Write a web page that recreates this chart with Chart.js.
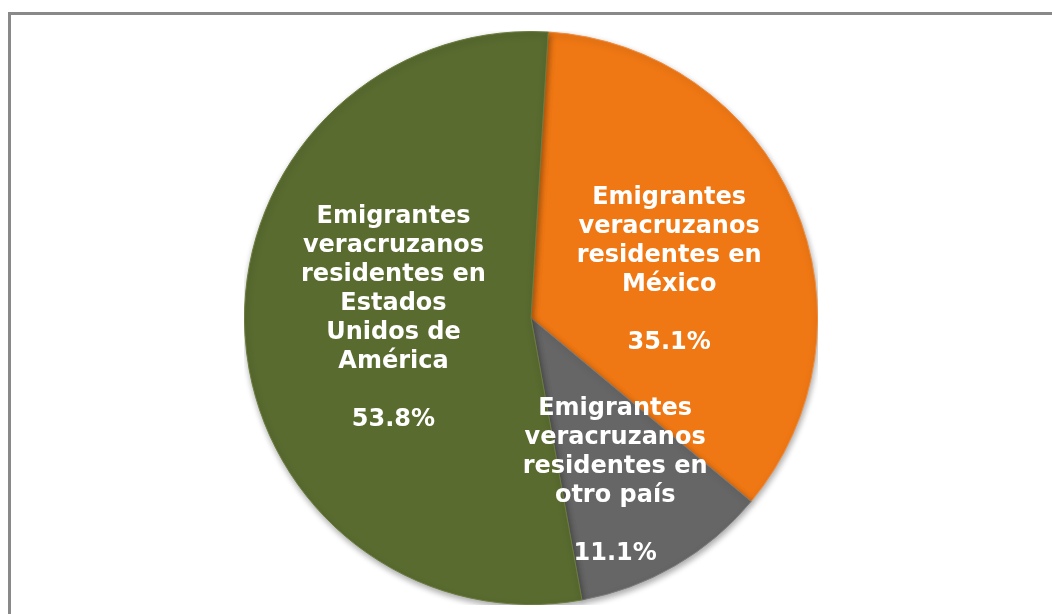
<!DOCTYPE html>
<html>
  <head>
    <meta charset="utf-8">
    <title>Emigrantes veracruzanos</title>
    <script src="https://cdn.jsdelivr.net/npm/chart.js"></script>
    <style>
      html, body { margin: 0; padding: 0; background: #fff; overflow: hidden; }
      body { width: 1052px; height: 614px; position: relative; }
      /* marco gris del grafico */
      .frame {
        position: absolute; left: 8px; top: 12px;
        width: 1100px; height: 700px;
        border: 3px solid #898989;
      }
      .chart-box {
        position: absolute; left: 244px; top: 31px;
        width: 574px; height: 574px;
      }
    </style>
  </head>
  <body>
    <div class="frame"></div>
    <div class="chart-box">
      <canvas id="pieChart"></canvas>
    </div>
    <script>
      // datos
      var categories = [
        'Emigrantes veracruzanos residentes en México',
        'Emigrantes veracruzanos residentes en otro país',
        'Emigrantes veracruzanos residentes en Estados Unidos de América'
      ];
      var labelLines = [
        ['Emigrantes', 'veracruzanos', 'residentes en', 'México'],
        ['Emigrantes', 'veracruzanos', 'residentes en', 'otro país'],
        ['Emigrantes', 'veracruzanos', 'residentes en', 'Estados', 'Unidos de', 'América']
      ];
      var percentages = [35.1, 11.1, 53.8];

      var sliceColors = ['#F07814', '#666666', '#596B2F'];
      var edgeColors = ['#F28A3A', '#7A7A7A', '#6A7C3E'];
      // posicion de etiqueta: fraccion del radio y ajuste de angulo (grados)
      var labelPlace = [[0.51, 4.4], [0.64, 2.9], [0.48, 3.4]];

      var shadowPlugin = {
        id: 'shadowPlugin',
        beforeDatasetsDraw: function(chart) {
          var ctx = chart.ctx;
          ctx.save();
          ctx.shadowColor = 'rgba(0,0,0,0.35)';
          ctx.shadowBlur = 6;
          ctx.shadowOffsetX = 1;
          ctx.shadowOffsetY = 3;
        },
        afterDatasetsDraw: function(chart) {
          chart.ctx.restore();
        }
      };

      var sliceLabels = {
        id: 'sliceLabels',
        afterDatasetsDraw: function(chart) {
          var ctx = chart.ctx;
          var meta = chart.getDatasetMeta(0);
          ctx.save();
          ctx.fillStyle = '#ffffff';
          ctx.font = 'bold 24px "DejaVu Sans", Verdana, sans-serif';
          ctx.textAlign = 'center';
          ctx.textBaseline = 'middle';
          meta.data.forEach(function(arc, i) {
            var p = arc.getProps(['x', 'y', 'startAngle', 'endAngle', 'outerRadius'], true);
            var mid = (p.startAngle + p.endAngle) / 2 + labelPlace[i][1] * Math.PI / 180;
            var r = p.outerRadius * labelPlace[i][0];
            var cx = p.x + Math.cos(mid) * r;
            var cy = p.y + Math.sin(mid) * r;
            var lines = labelLines[i].concat(['', percentages[i].toFixed(1) + '%']);
            var lh = 29;
            var top = cy - (lines.length - 1) * lh / 2;
            lines.forEach(function(t, k) {
              if (t) ctx.fillText(t, cx, top + k * lh);
            });
          });
          ctx.restore();
        }
      };

      new Chart(document.getElementById('pieChart').getContext('2d'), {
        type: 'pie',
        data: {
          labels: categories,
          datasets: [{
            data: percentages,
            backgroundColor: sliceColors,
            borderColor: edgeColors,
            borderWidth: 1,
            hoverOffset: 0
          }]
        },
        options: {
          responsive: true,
          maintainAspectRatio: false,
          animation: false,
          rotation: 3.44,
          layout: { padding: 0 },
          plugins: {
            legend: { display: false },
            tooltip: { enabled: false }
          }
        },
        plugins: [shadowPlugin, sliceLabels]
      });
    </script>
  </body>
</html>
